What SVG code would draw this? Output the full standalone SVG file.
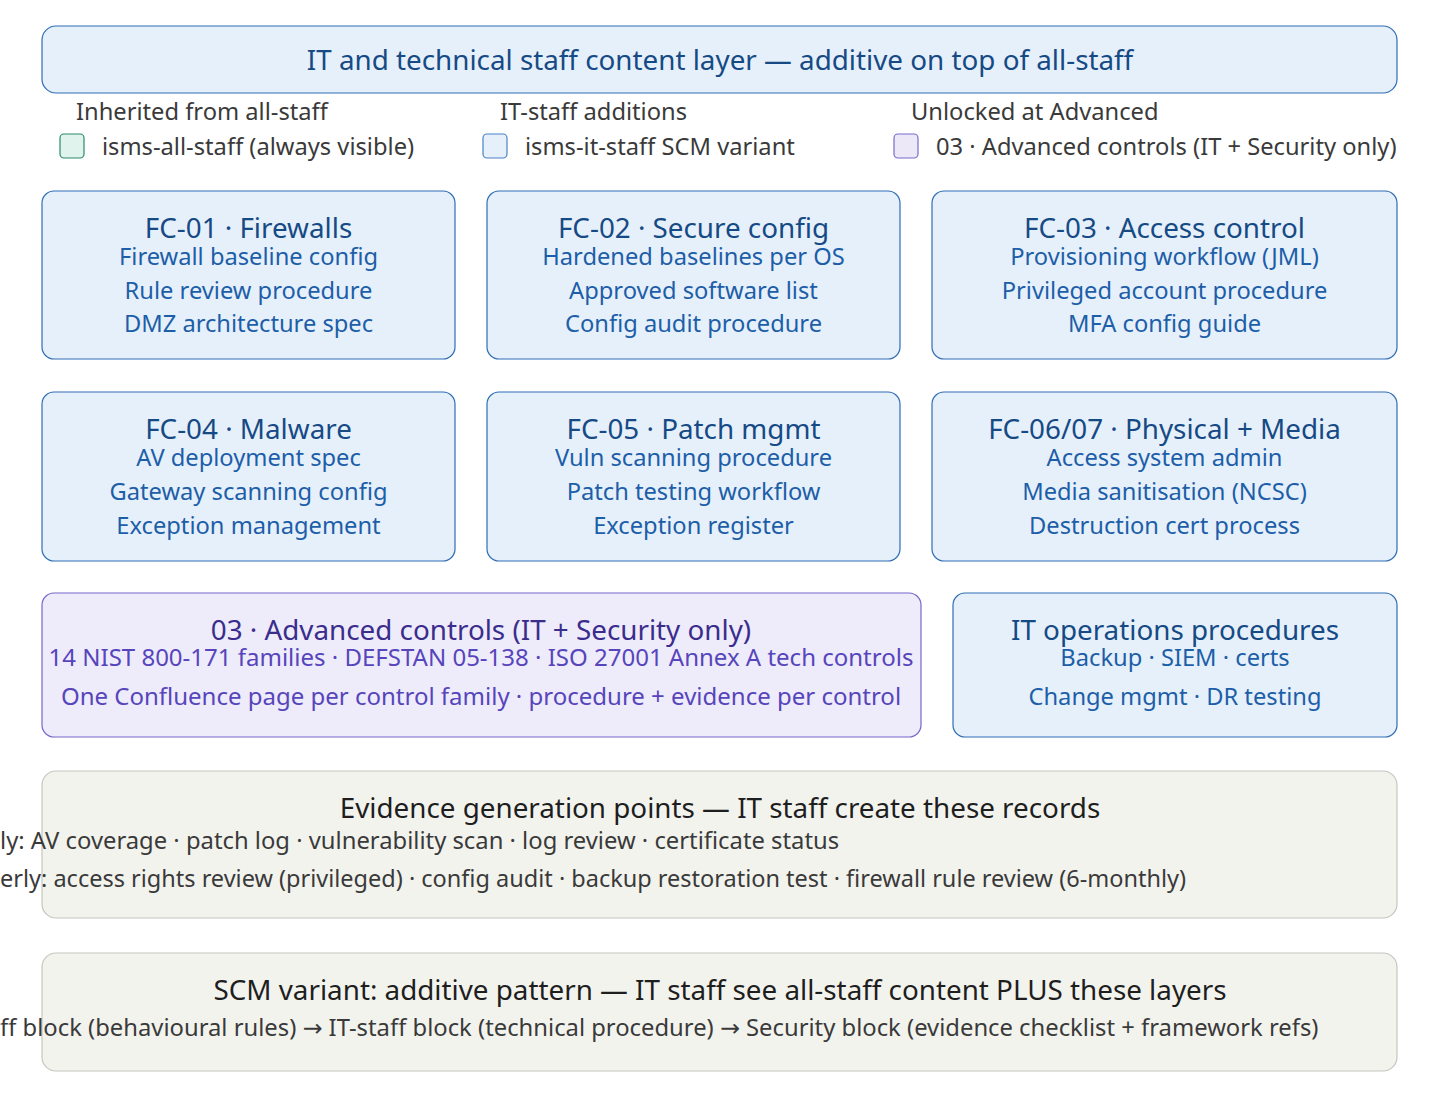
<svg xmlns="http://www.w3.org/2000/svg" width="1440" height="1102" viewBox="0 0 1440 1102">
<style>
text{font-family:"Noto Sans","Open Sans","DejaVu Sans",sans-serif;}
.blue rect.box{fill:#e6f0fb;stroke:#2f6db5;stroke-width:1.2;}
.purple rect.box{fill:#eeebfb;stroke:#7766cc;stroke-width:1.2;}
.grey rect.box{fill:#f3f3ee;stroke:#c6c6c0;stroke-width:1.2;}
.t{font-size:27.8px;text-anchor:middle;}
.l{font-size:23.7px;text-anchor:middle;}
.blue .t{fill:#164a85;}
.blue .l{fill:#1d5ea8;}
.purple .t{fill:#3a2d8c;}
.purple .l{fill:#5645bb;}
.grey .t{fill:#1e1e1e;}
.grey .l{fill:#3a3a3a;font-size:23.8px;text-anchor:start;}
.grey .l2{font-size:23.5px;}
.purple .l{font-size:24px;}
.lg{font-size:23.7px;fill:#3a3a3a;}
</style>
<g id="header" class="blue">
<rect class="box" x="42" y="26" width="1355" height="67" rx="14"/>
<text class="t" x="720" y="70">IT and technical staff content layer — additive on top of all-staff</text>
</g>
<g id="legend">
<text class="lg" x="76" y="120">Inherited from all-staff</text>
<rect x="60" y="134" width="24" height="24" rx="4" fill="#e0f3ec" stroke="#2b8a68" stroke-width="1.2"/>
<text class="lg" x="102" y="155">isms-all-staff (always visible)</text>
<text class="lg" x="500" y="120">IT-staff additions</text>
<rect x="483" y="134" width="24" height="24" rx="4" fill="#e6f0fb" stroke="#4a82c4" stroke-width="1.2"/>
<text class="lg" x="525" y="155">isms-it-staff SCM variant</text>
<text class="lg" x="911" y="120">Unlocked at Advanced</text>
<rect x="894" y="134" width="24" height="24" rx="4" fill="#ece8f8" stroke="#7a6acc" stroke-width="1.2"/>
<text class="lg" x="936" y="155">03 · Advanced controls (IT + Security only)</text>
</g>
<g id="fc01" class="blue">
<rect class="box" x="42" y="191" width="413" height="168" rx="12"/>
<text class="t" x="248.5" y="238">FC-01 · Firewalls</text>
<text class="l" x="248.5" y="265">Firewall baseline config</text>
<text class="l" x="248.5" y="299">Rule review procedure</text>
<text class="l" x="248.5" y="332">DMZ architecture spec</text>
</g>
<g id="fc02" class="blue">
<rect class="box" x="487" y="191" width="413" height="168" rx="12"/>
<text class="t" x="693.5" y="238">FC-02 · Secure config</text>
<text class="l" x="693.5" y="265">Hardened baselines per OS</text>
<text class="l" x="693.5" y="299">Approved software list</text>
<text class="l" x="693.5" y="332">Config audit procedure</text>
</g>
<g id="fc03" class="blue">
<rect class="box" x="932" y="191" width="465" height="168" rx="12"/>
<text class="t" x="1164.5" y="238">FC-03 · Access control</text>
<text class="l" x="1164.5" y="265">Provisioning workflow (JML)</text>
<text class="l" x="1164.5" y="299">Privileged account procedure</text>
<text class="l" x="1164.5" y="332">MFA config guide</text>
</g>
<g id="fc04" class="blue">
<rect class="box" x="42" y="392" width="413" height="169" rx="12"/>
<text class="t" x="248.5" y="439">FC-04 · Malware</text>
<text class="l" x="248.5" y="466">AV deployment spec</text>
<text class="l" x="248.5" y="500">Gateway scanning config</text>
<text class="l" x="248.5" y="534">Exception management</text>
</g>
<g id="fc05" class="blue">
<rect class="box" x="487" y="392" width="413" height="169" rx="12"/>
<text class="t" x="693.5" y="439">FC-05 · Patch mgmt</text>
<text class="l" x="693.5" y="466">Vuln scanning procedure</text>
<text class="l" x="693.5" y="500">Patch testing workflow</text>
<text class="l" x="693.5" y="534">Exception register</text>
</g>
<g id="fc0607" class="blue">
<rect class="box" x="932" y="392" width="465" height="169" rx="12"/>
<text class="t" x="1164.5" y="439">FC-06/07 · Physical + Media</text>
<text class="l" x="1164.5" y="466">Access system admin</text>
<text class="l" x="1164.5" y="500">Media sanitisation (NCSC)</text>
<text class="l" x="1164.5" y="534">Destruction cert process</text>
</g>
<g id="advanced" class="purple">
<rect class="box" x="42" y="593" width="879" height="144" rx="12"/>
<text class="t" x="481" y="640">03 · Advanced controls (IT + Security only)</text>
<text class="l" x="481" y="666">14 NIST 800-171 families · DEFSTAN 05-138 · ISO 27001 Annex A tech controls</text>
<text class="l" x="481" y="705">One Confluence page per control family · procedure + evidence per control</text>
</g>
<g id="itops" class="blue">
<rect class="box" x="953" y="593" width="444" height="144" rx="12"/>
<text class="t" x="1175" y="640">IT operations procedures</text>
<text class="l" x="1175" y="666">Backup · SIEM · certs</text>
<text class="l" x="1175" y="705">Change mgmt · DR testing</text>
</g>
<g id="evidence" class="grey">
<rect class="box" x="42" y="771" width="1355" height="147" rx="14"/>
<text class="t" x="720" y="818">Evidence generation points — IT staff create these records</text>
<text class="l" x="0" y="849">ly: AV coverage · patch log · vulnerability scan · log review · certificate status</text>
<text class="l l2" x="0" y="887">erly: access rights review (privileged) · config audit · backup restoration test · firewall rule review (6-monthly)</text>
</g>
<g id="scm" class="grey">
<rect class="box" x="42" y="953" width="1355" height="118" rx="14"/>
<text class="t" x="720" y="1000">SCM variant: additive pattern — IT staff see all-staff content PLUS these layers</text>
<text class="l" x="0" y="1036">ff block (behavioural rules) → IT-staff block (technical procedure) → Security block (evidence checklist + framework refs)</text>
</g>
<g id="connectors"></g>
</svg>
